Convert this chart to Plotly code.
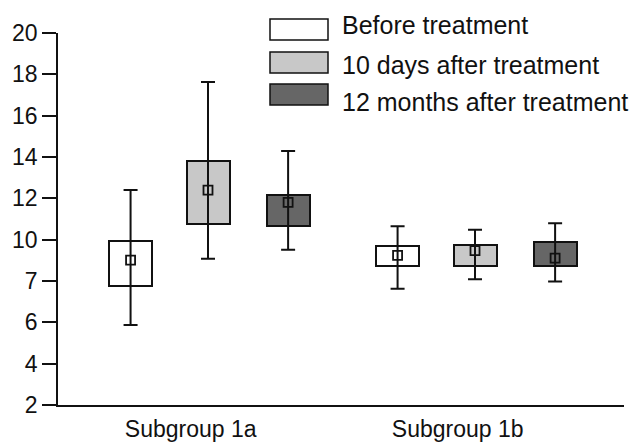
import plotly.graph_objects as go

# ---- data ----
categories = ["Subgroup 1a", "Subgroup 1b"]
series_names = ["Before treatment", "10 days after treatment", "12 months after treatment"]

before_box_low = [7.76, 8.72]
before_box_high = [9.93, 9.71]
before_mean = [9.01, 9.24]
before_whisk_low = [5.87, 7.63]
before_whisk_high = [12.40, 10.65]

days10_box_low = [10.76, 8.71]
days10_box_high = [13.82, 9.76]
days10_mean = [12.40, 9.47]
days10_whisk_low = [9.08, 8.08]
days10_whisk_high = [17.63, 10.48]

months12_box_low = [10.65, 8.71]
months12_box_high = [12.16, 9.89]
months12_mean = [11.80, 9.11]
months12_whisk_low = [9.51, 7.98]
months12_whisk_high = [14.29, 10.79]

y_tickvals = [2, 4, 6, 8, 10, 12, 14, 16, 18, 20]
y_ticktext = ["2", "4", "6", "7", "10", "12", "14", "16", "18", "20"]

# ---- styling / layout ----
FONT = "Liberation Sans, Arial, sans-serif"
colors = ["#ffffff", "#c8c8c8", "#666666"]
offsets = [-0.29, 0.0, 0.30]
box_width = 0.161

series = [
    (before_box_low, before_box_high, before_mean, before_whisk_low, before_whisk_high),
    (days10_box_low, days10_box_high, days10_mean, days10_whisk_low, days10_whisk_high),
    (months12_box_low, months12_box_high, months12_mean, months12_whisk_low, months12_whisk_high),
]

fig = go.Figure()
for k, (lo, hi, mn, wl, wh) in enumerate(series):
    xs = [i + offsets[k] for i in range(len(categories))]
    fig.add_trace(go.Bar(
        x=xs, y=[h - l for h, l in zip(hi, lo)], base=lo, width=box_width,
        marker=dict(color=colors[k], line=dict(color="#111111", width=2)),
        name=series_names[k], showlegend=False, hoverinfo="skip",
    ))
for k, (lo, hi, mn, wl, wh) in enumerate(series):
    xs = [i + offsets[k] for i in range(len(categories))]
    fig.add_trace(go.Scatter(
        x=xs, y=mn, mode="markers",
        marker=dict(symbol="square-open", size=9, color="#111111", line=dict(width=1.8)),
        error_y=dict(type="data", symmetric=False,
                     array=[h - m for h, m in zip(wh, mn)],
                     arrayminus=[m - l for m, l in zip(mn, wl)],
                     color="#111111", thickness=2, width=7),
        showlegend=False, name=series_names[k],
    ))

# manual legend (large swatches as in the reference)
legend_rows_y = [(19, 40, 25), (52, 73, 65), (84, 105, 102)]  # px: box top, box bottom, text centre
L, T, W, H = 58, 33, 566, 372
def px2x(px):
    return (px - L) / W
def py2y(py):
    return (T + H - py) / H
for k, name in enumerate(series_names):
    top, bot, tc = legend_rows_y[k]
    fig.add_shape(type="rect", xref="paper", yref="paper",
                  x0=px2x(270), x1=px2x(328), y0=py2y(bot), y1=py2y(top),
                  fillcolor=colors[k], line=dict(color="#111111", width=1.5))
    fig.add_annotation(xref="paper", yref="paper", x=px2x(340), y=py2y(tc),
                       text=name, showarrow=False, xanchor="left", yanchor="middle",
                       font=dict(family=FONT, size=25, color="#111111"))

fig.update_layout(
    width=634, height=444,
    margin=dict(l=L, r=634 - L - W, t=T, b=444 - T - H, autoexpand=False),
    paper_bgcolor="white", plot_bgcolor="white",
    font=dict(family=FONT, size=23, color="#111111"),
    bargap=0, showlegend=False,
)
fig.update_xaxes(
    range=[-0.5618, 1.558], tickvals=[i - 0.065 for i in range(len(categories))],
    ticktext=categories, showline=True, linecolor="#111111", linewidth=1.5,
    ticks="", showgrid=False, zeroline=False, ticklabelstandoff=3, automargin=False,
    tickfont=dict(family=FONT, size=23, color="#111111"),
)
fig.update_yaxes(
    range=[2, 20], tickvals=y_tickvals, ticktext=y_ticktext,
    showline=True, linecolor="#111111", linewidth=1.5,
    ticks="outside", ticklen=14, tickwidth=1.5, tickcolor="#111111",
    showgrid=False, zeroline=False, automargin=False,
    tickfont=dict(family=FONT, size=23, color="#111111"),
)

fig.write_html("out.html", config={"displayModeBar": False},
               post_script="document.body.style.margin='0px';document.body.style.overflow='hidden';")
